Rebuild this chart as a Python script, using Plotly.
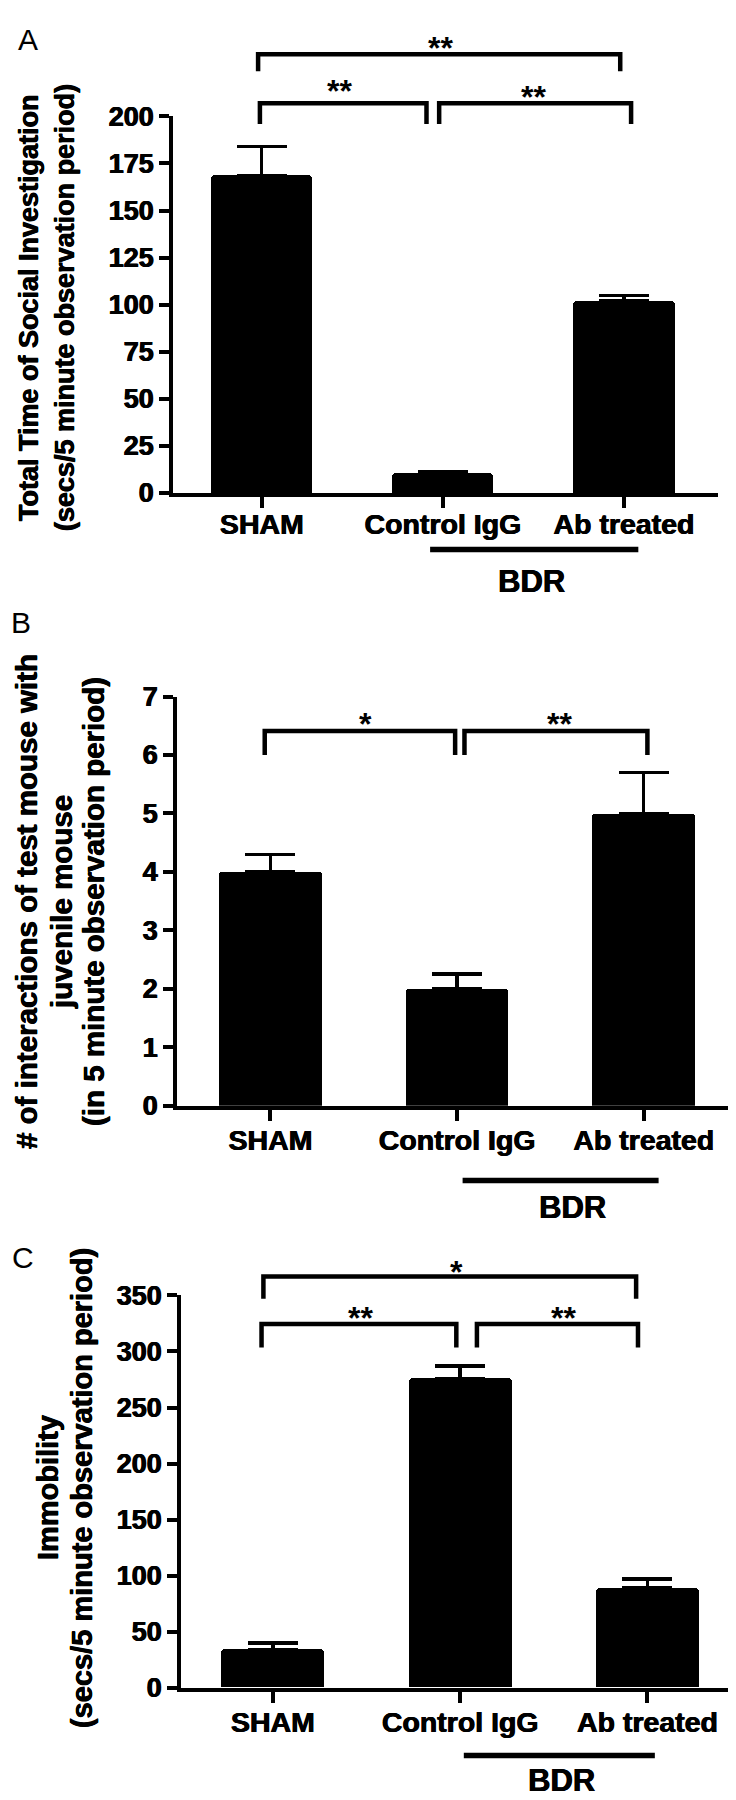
import plotly.graph_objects as go

# ---------------- data ----------------
categories = ["SHAM", "Control IgG", "Ab treated"]
positions = [0, 1, 2]

a_means = [168.5, 10.5, 102.0]
a_errors = [15.5, 1.0, 3.0]
a_ticks = [0, 25, 50, 75, 100, 125, 150, 175, 200]

b_means = [4.0, 2.0, 5.0]
b_errors = [0.3, 0.25, 0.7]
b_ticks = [0, 1, 2, 3, 4, 5, 6, 7]

c_means = [34.0, 276.0, 89.0]
c_errors = [6.0, 11.0, 8.0]
c_ticks = [0, 50, 100, 150, 200, 250, 300, 350]

# significance brackets: x from, x to, bar level, leg end, star x, star level, label
a_brackets = [(-0.02, 1.98, 233, 224, 0.99, 239, "**"),
              (-0.01, 0.91, 207, 196, 0.43, 216, "**"),
              (0.98, 2.04, 207, 196, 1.50, 213, "**")]
b_brackets = [(-0.03, 0.99, 6.41, 6.0, 0.51, 6.62, "*"),
              (1.04, 2.02, 6.41, 6.0, 1.55, 6.62, "**")]
c_brackets = [(-0.05, 1.94, 367, 347, 0.98, 375, "*"),
              (-0.06, 0.98, 324.6, 303.5, 0.47, 334, "**"),
              (1.09, 1.95, 324.6, 303.5, 1.55, 334, "**")]

# BDR grouping line: x from, x to, line level, text x, text level
a_group = (0.93, 2.08, -30.0, 1.49, -47.0)
b_group = (1.03, 2.08, -1.28, 1.62, -1.75)
c_group = (1.02, 2.04, -60.5, 1.54, -82.5)
group_label = "BDR"

a_title = ["Total Time of Social Investigation", "(secs/5 minute observation period)"]
b_title = ["# of interactions of test mouse with", "juvenile mouse",
           "(in 5 minute observation period)"]
c_title = ["Immobility", "(secs/5 minute observation period)"]

# ---------------- layout geometry ----------------
W, H = 736, 1800
FONT = "Liberation Sans"
SHADOW = "0.6px 0 0 black, -0.3px 0 0 black"


def px_x(v):
    return v / W


def px_y(v):
    return 1 - v / H


panels = [
    dict(means=a_means, errs=a_errors, ticks=a_ticks, ymax=200, xr=[-0.49, 2.52],
         xpx=(165, 710), ypx=(478, 95), brackets=a_brackets, group=a_group,
         title=a_title, tsize=27, tx=[21, 57], ty=290, letter="A", lpos=(20, 17),
         bw=0.56, lstand=-8),
    dict(means=b_means, errs=b_errors, ticks=b_ticks, ymax=7, xr=[-0.5, 2.5],
         xpx=(169, 729), ypx=(1101, 685), brackets=b_brackets, group=b_group,
         title=b_title, tsize=29.5, tx=[18, 53, 85], ty=894, letter="B", lpos=(13, 610),
         bw=0.55, lstand=-5),
    dict(means=c_means, errs=c_errors, ticks=c_ticks, ymax=350, xr=[-0.49, 2.5],
         xpx=(173, 733), ypx=(1693, 1294), brackets=c_brackets, group=c_group,
         title=c_title, tsize=29, tx=[40, 74], ty=1490, letter="C", lpos=(15, 1255),
         bw=0.55, lstand=-5),
]

fig = go.Figure()
shapes = []
annotations = []
layout_axes = {}

for i, p in enumerate(panels, start=1):
    sfx = "" if i == 1 else str(i)
    xid, yid = "x" + sfx, "y" + sfx
    fig.add_trace(go.Bar(
        x=positions, y=p["means"], width=p["bw"],
        marker=dict(color="black", line=dict(width=0), cornerradius=3),
        error_y=dict(type="data", array=p["errs"], arrayminus=[0] * len(p["errs"]),
                     symmetric=False, color="black", thickness=3.5, width=25),
        xaxis=xid, yaxis=yid, showlegend=False, hoverinfo="skip",
    ))
    ymax = p["ymax"]
    layout_axes["xaxis" + sfx] = dict(
        domain=[px_x(p["xpx"][0]), px_x(p["xpx"][1])], range=p["xr"], anchor=yid,
        tickmode="array", tickvals=positions, ticktext=categories,
        showline=True, linewidth=4, linecolor="black",
        ticks="outside", ticklen=11, tickwidth=3.5, tickcolor="black",
        ticklabelstandoff=p["lstand"],
        tickfont=dict(family=FONT, size=28.5, color="black", weight="bold", shadow=SHADOW),
        showgrid=False, zeroline=False, fixedrange=True,
    )
    layout_axes["yaxis" + sfx] = dict(
        domain=[px_y(p["ypx"][0]), px_y(p["ypx"][1])], range=[0, ymax], anchor=xid,
        tickmode="array", tickvals=p["ticks"],
        showline=True, linewidth=4, linecolor="black",
        ticks="outside", ticklen=10, tickwidth=3.5, tickcolor="black",
        tickfont=dict(family=FONT, size=27, color="black", weight="bold", shadow=SHADOW),
        showgrid=False, zeroline=False, fixedrange=True,
    )
    ydom = yid + " domain"
    for (x0, x1, yb, yl, sx, sy, lab) in p["brackets"]:
        path = (f"M {x0},{yl / ymax} L {x0},{yb / ymax} "
                f"L {x1},{yb / ymax} L {x1},{yl / ymax}")
        shapes.append(dict(type="path", path=path, xref=xid, yref=ydom,
                           line=dict(color="black", width=4.5)))
        annotations.append(dict(x=sx, y=sy / ymax, xref=xid, yref=ydom, text=lab,
                                showarrow=False, xanchor="center", yanchor="middle",
                                yshift=-5,
                                font=dict(family=FONT, size=32, color="black", weight="bold")))
    gx0, gx1, gy, tx, ty = p["group"]
    shapes.append(dict(type="line", x0=gx0, x1=gx1, y0=gy / ymax, y1=gy / ymax,
                       xref=xid, yref=ydom, line=dict(color="black", width=5.5)))
    annotations.append(dict(x=tx, y=ty / ymax, xref=xid, yref=ydom, text=group_label,
                            showarrow=False, xanchor="center", yanchor="middle",
                            font=dict(family=FONT, size=31, color="black", weight="bold",
                                      shadow=SHADOW)))
    for line, lx in zip(p["title"], p["tx"]):
        annotations.append(dict(x=px_x(lx), y=px_y(p["ty"]), xref="paper",
                                yref="paper", text=line, textangle=-90, showarrow=False,
                                xanchor="center", yanchor="middle", align="center",
                                font=dict(family=FONT, size=p["tsize"], color="black",
                                          weight="bold", shadow=SHADOW)))
    annotations.append(dict(x=px_x(p["lpos"][0]), y=px_y(p["lpos"][1]), xref="paper",
                            yref="paper", text=p["letter"], showarrow=False,
                            xanchor="center", yanchor="middle",
                            font=dict(family=FONT, size=30, color="black")))

fig.update_layout(
    width=W, height=H, margin=dict(l=0, r=0, t=0, b=0),
    paper_bgcolor="white", plot_bgcolor="white",
    showlegend=False, bargap=0,
    shapes=shapes, annotations=annotations,
    **layout_axes,
)

fig.write_html("out.html")
